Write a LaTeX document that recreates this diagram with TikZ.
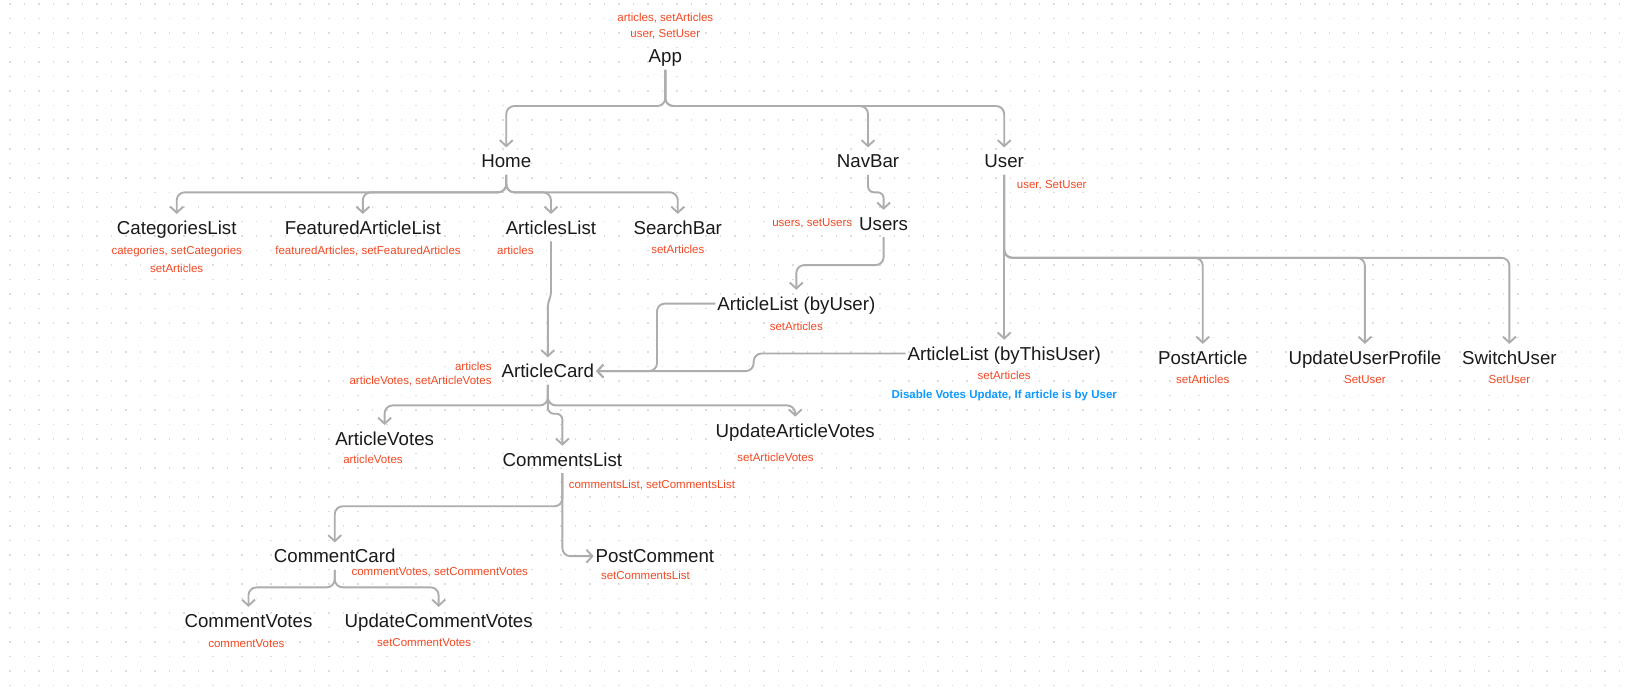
\documentclass[tikz,border=0pt]{standalone}
\usepackage{fontspec}
\setmainfont{Liberation Sans}
\usetikzlibrary{arrows.meta}
\definecolor{ink}{HTML}{1A1A1A}
\definecolor{propred}{HTML}{F24822}
\definecolor{noteblue}{HTML}{0D99FF}
\definecolor{wire}{HTML}{ADADAD}
\definecolor{dotc}{HTML}{DCDCDC}
\begin{document}
\begin{tikzpicture}[x=1.0395pt,y=-1.0395pt,
  comp/.style={font=\fontsize{18.7}{20}\selectfont, text=ink, inner sep=0pt,
    outer xsep=2pt, outer ysep=7pt, text height=13.4pt, text depth=0pt},
  prop/.style={font=\fontsize{11.5}{13}\selectfont, text=propred, inner sep=0pt,
    text height=8.3pt, text depth=0pt},
  note/.style={prop, text=noteblue, font=\fontsize{11.5}{13}\selectfont\bfseries},
  link/.style={draw=wire, line width=1.9pt, rounded corners=8pt,
    -{Straight Barb[length=6pt,width=13pt]}}
]
% canvas and dotted grid
\fill[white] (0,0) rectangle (1568,663);
\useasboundingbox (0,0) rectangle (1568,663);
\begin{scope}[x=1pt,y=-1pt]
  \foreach \i in {0,...,112}{
    \foreach \j in {0,...,47}{
      \fill[dotc] (9.3+14.5*\i,3.3+14.5*\j) rectangle ++(1.2,1.2);
    }
  }
\end{scope}

% components
\node[comp] (app) at (640,54) {App};
\node[comp] (home) at (487,155) {Home};
\node[comp] (navbar) at (835,155) {NavBar};
\node[comp] (user) at (966,155) {User};
\node[comp] (cat) at (170,219) {CategoriesList};
\node[comp] (feat) at (349,219) {FeaturedArticleList};
\node[comp] (alist) at (530,219) {ArticlesList};
\node[comp] (search) at (652,219) {SearchBar};
\node[comp] (users) at (850,215) {Users};
\node[comp] (byuser) at (766,292) {ArticleList (byUser)};
\node[comp] (acard) at (527,357) {ArticleCard};
\node[comp] (bythis) at (966,340) {ArticleList (byThisUser)};
\node[comp] (postart) at (1157,344) {PostArticle};
\node[comp] (updprof) at (1313,344) {UpdateUserProfile};
\node[comp] (switch) at (1452,344) {SwitchUser};
\node[comp] (avotes) at (370,422) {ArticleVotes};
\node[comp] (clist) at (541,442) {CommentsList};
\node[comp] (updav) at (765,414) {UpdateArticleVotes};
\node[comp] (ccard) at (322,535) {CommentCard};
\node[comp] (pcomm) at (630,535) {PostComment};
\node[comp] (cvotes) at (239,597) {CommentVotes};
\node[comp] (updcv) at (422,597) {UpdateCommentVotes};

% state and props
\node[prop] (pApp1) at (640,17) {articles, setArticles};
\node[prop] (pApp2) at (640,32) {user, SetUser};
\node[prop, anchor=west] (pUser) at (978,177) {user, SetUser};
\node[prop] (pCat1) at (170,241) {categories, setCategories};
\node[prop] (pCat2) at (170,258) {setArticles};
\node[prop] (pFeat) at (354,241) {featuredArticles, setFeaturedArticles};
\node[prop, anchor=west] (pAlist) at (478,241) {articles};
\node[prop] (pSearch) at (652,240) {setArticles};
\node[prop, anchor=east] (pUsers) at (820,214) {users, setUsers};
\node[prop] (pByUser) at (766,314) {setArticles};
\node[prop, anchor=east] (pCard1) at (473,352) {articles};
\node[prop, anchor=east] (pCard2) at (473,366) {articleVotes, setArticleVotes};
\node[prop] (pByThis) at (966,361) {setArticles};
\node[note] (nByThis) at (966,379) {Disable Votes Update, If article is by User};
\node[prop] (pPost) at (1157,365) {setArticles};
\node[prop] (pProf) at (1313,365) {SetUser};
\node[prop] (pSwitch) at (1452,365) {SetUser};
\node[prop, anchor=west] (pAvotes) at (330,442) {articleVotes};
\node[prop] (pUpdav) at (746,440) {setArticleVotes};
\node[prop, anchor=west] (pClist) at (547,466) {commentsList, setCommentsList};
\node[prop, anchor=west] (pCcard) at (338,550) {commentVotes, setCommentVotes};
\node[prop, anchor=west] (pPcomm) at (578,553) {setCommentsList};
\node[prop] (pCvotes) at (237,619) {commentVotes};
\node[prop] (pUpdcv) at (408,618) {setCommentVotes};

% junction points
\coordinate (jApp) at (640,102);
\coordinate (jHome) at (487,185);
\coordinate (jNav) at (835,185);
\coordinate (jUsers) at (850,255);
\coordinate (jUser) at (966,248);
\coordinate (jCard) at (527,390);
\coordinate (jClist) at (541,487);
\coordinate (jCcard) at (322,565);

% App
\draw[link] (app) -- (jApp) -| (home);
\draw[link] (app) -- (jApp) -| (navbar);
\draw[link] (app) -- (jApp) -| (user);
% Home
\draw[link] (home) -- (jHome) -| (cat);
\draw[link] (home) -- (jHome) -| (feat);
\draw[link] (home) -- (jHome) -| (alist);
\draw[link] (home) -- (jHome) -| (search);
% NavBar and Users
\draw[link, rounded corners=6pt] (navbar) -- (jNav) -| (users);
\draw[link] (users) -- (jUsers) -| (byuser);
% into ArticleCard
\draw[link, rounded corners=4pt] (alist) -- (530,285) -- (527,291) -- (acard);
\draw[link] (byuser) -- (632,292) |- (acard);
\draw[link] (bythis) -- (725,340) -- (725,357) -- (acard);
% User
\draw[link] (user) -- (bythis);
\draw[link] (user) -- (jUser) -| (postart);
\draw[link] (user) -- (jUser) -| (updprof);
\draw[link] (user) -- (jUser) -| (switch);
% ArticleCard
\draw[link] (acard) -- (jCard) -| (avotes);
\draw[link] (acard) -- (jCard) -| (updav);
\draw[link, rounded corners=6pt] (acard) -- (527,398) -| (clist);
% CommentsList
\draw[link] (clist) -- (jClist) -| (ccard);
\draw[link] (clist) -- (jClist) |- (pcomm);
% CommentCard
\draw[link] (ccard) -- (jCcard) -| (cvotes);
\draw[link] (ccard) -- (jCcard) -| (updcv);
\end{tikzpicture}
\end{document}
